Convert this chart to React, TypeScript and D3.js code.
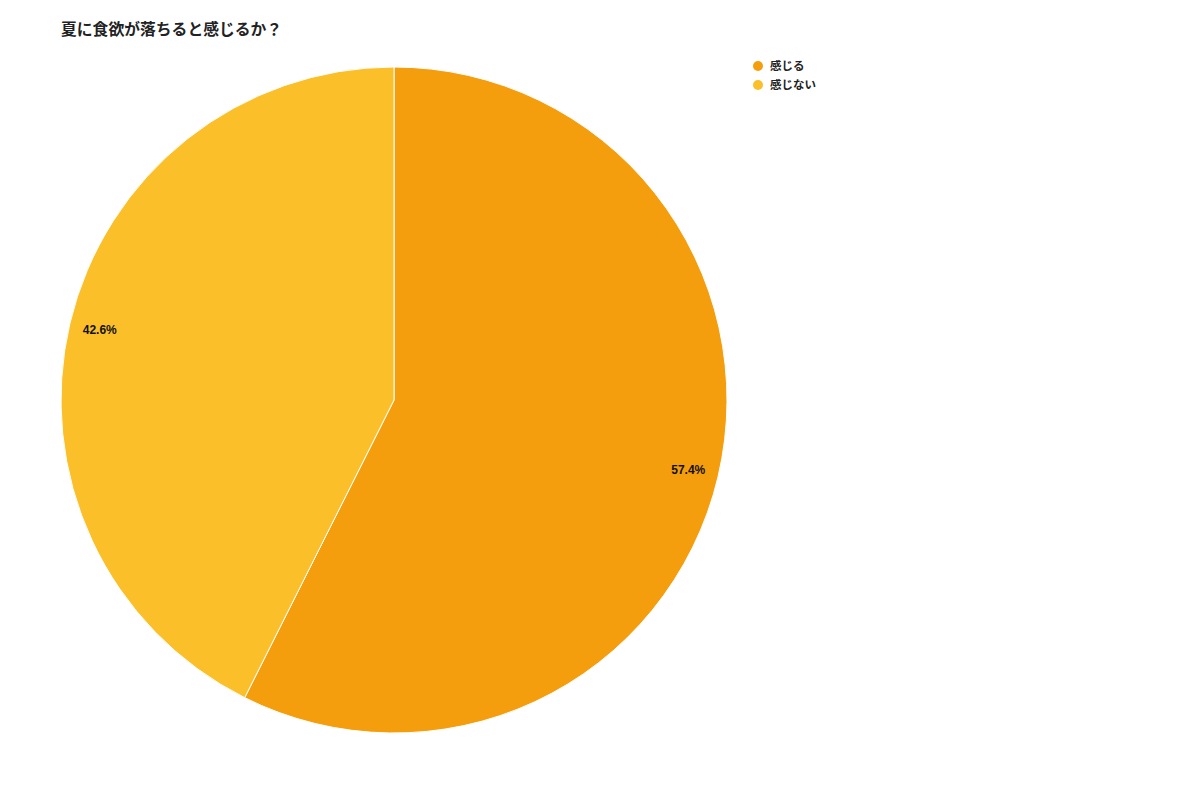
import { useEffect, useRef } from 'react';
import * as d3 from 'd3';

const categories = ['感じる', '感じない'];
const values = [57.4, 42.6];
const colors = ['#f59e0d', '#fbbf29'];
const title = '夏に食欲が落ちると感じるか？';

const font = '"Liberation Sans", "Noto Sans CJK JP", sans-serif';

export default function App() {
  const ref = useRef<SVGSVGElement>(null);

  useEffect(() => {
    const el = ref.current;
    if (!el) return;
    const svg = d3.select(el);
    svg.selectAll('*').remove();

    const width = 1200;
    const height = 800;
    const cx = 394;
    const cy = 400;
    const radius = 333;

    svg.attr('viewBox', `0 0 ${width} ${height}`);
    svg.append('rect').attr('width', width).attr('height', height).attr('fill', '#fff');

    svg
      .append('text')
      .attr('x', 61)
      .attr('y', 35)
      .attr('font-family', font)
      .attr('font-size', 15.8)
      .attr('font-weight', 700)
      .attr('fill', '#222')
      .text(title);

    const data = categories.map((name, i) => ({ name, value: values[i], color: colors[i] }));
    const pie = d3.pie<(typeof data)[number]>().value((d) => d.value).sort(null);
    const arcs = pie(data);
    const arc = d3.arc<d3.PieArcDatum<(typeof data)[number]>>().innerRadius(0).outerRadius(radius);
    const labelArc = d3
      .arc<d3.PieArcDatum<(typeof data)[number]>>()
      .innerRadius(radius * 0.908)
      .outerRadius(radius * 0.908);

    const g = svg.append('g').attr('transform', `translate(${cx},${cy})`);
    g.selectAll('path')
      .data(arcs)
      .join('path')
      .attr('d', arc)
      .attr('fill', (d) => d.data.color)
      .attr('stroke', '#fff')
      .attr('stroke-width', 1);

    g.selectAll('text')
      .data(arcs)
      .join('text')
      .attr('transform', (d) => `translate(${labelArc.centroid(d)})`)
      .attr('text-anchor', 'middle')
      .attr('dominant-baseline', 'central')
      .attr('font-family', font)
      .attr('font-size', 12)
      .attr('font-weight', 700)
      .attr('fill', '#111')
      .text((d) => `${d.data.value.toFixed(1)}%`);

    const legend = svg.append('g').attr('transform', 'translate(758,66)');
    const item = legend
      .selectAll('g')
      .data(data)
      .join('g')
      .attr('transform', (_d, i) => `translate(0,${i * 19})`);
    item.append('circle').attr('r', 5).attr('fill', (d) => d.color);
    item
      .append('text')
      .attr('x', 12)
      .attr('dominant-baseline', 'central')
      .attr('font-family', font)
      .attr('font-size', 11.5)
      .attr('font-weight', 700)
      .attr('fill', '#222')
      .text((d) => d.name);
  }, []);

  return <svg ref={ref} width={1200} height={800} style={{ display: 'block', margin: -8 }} />;
}
